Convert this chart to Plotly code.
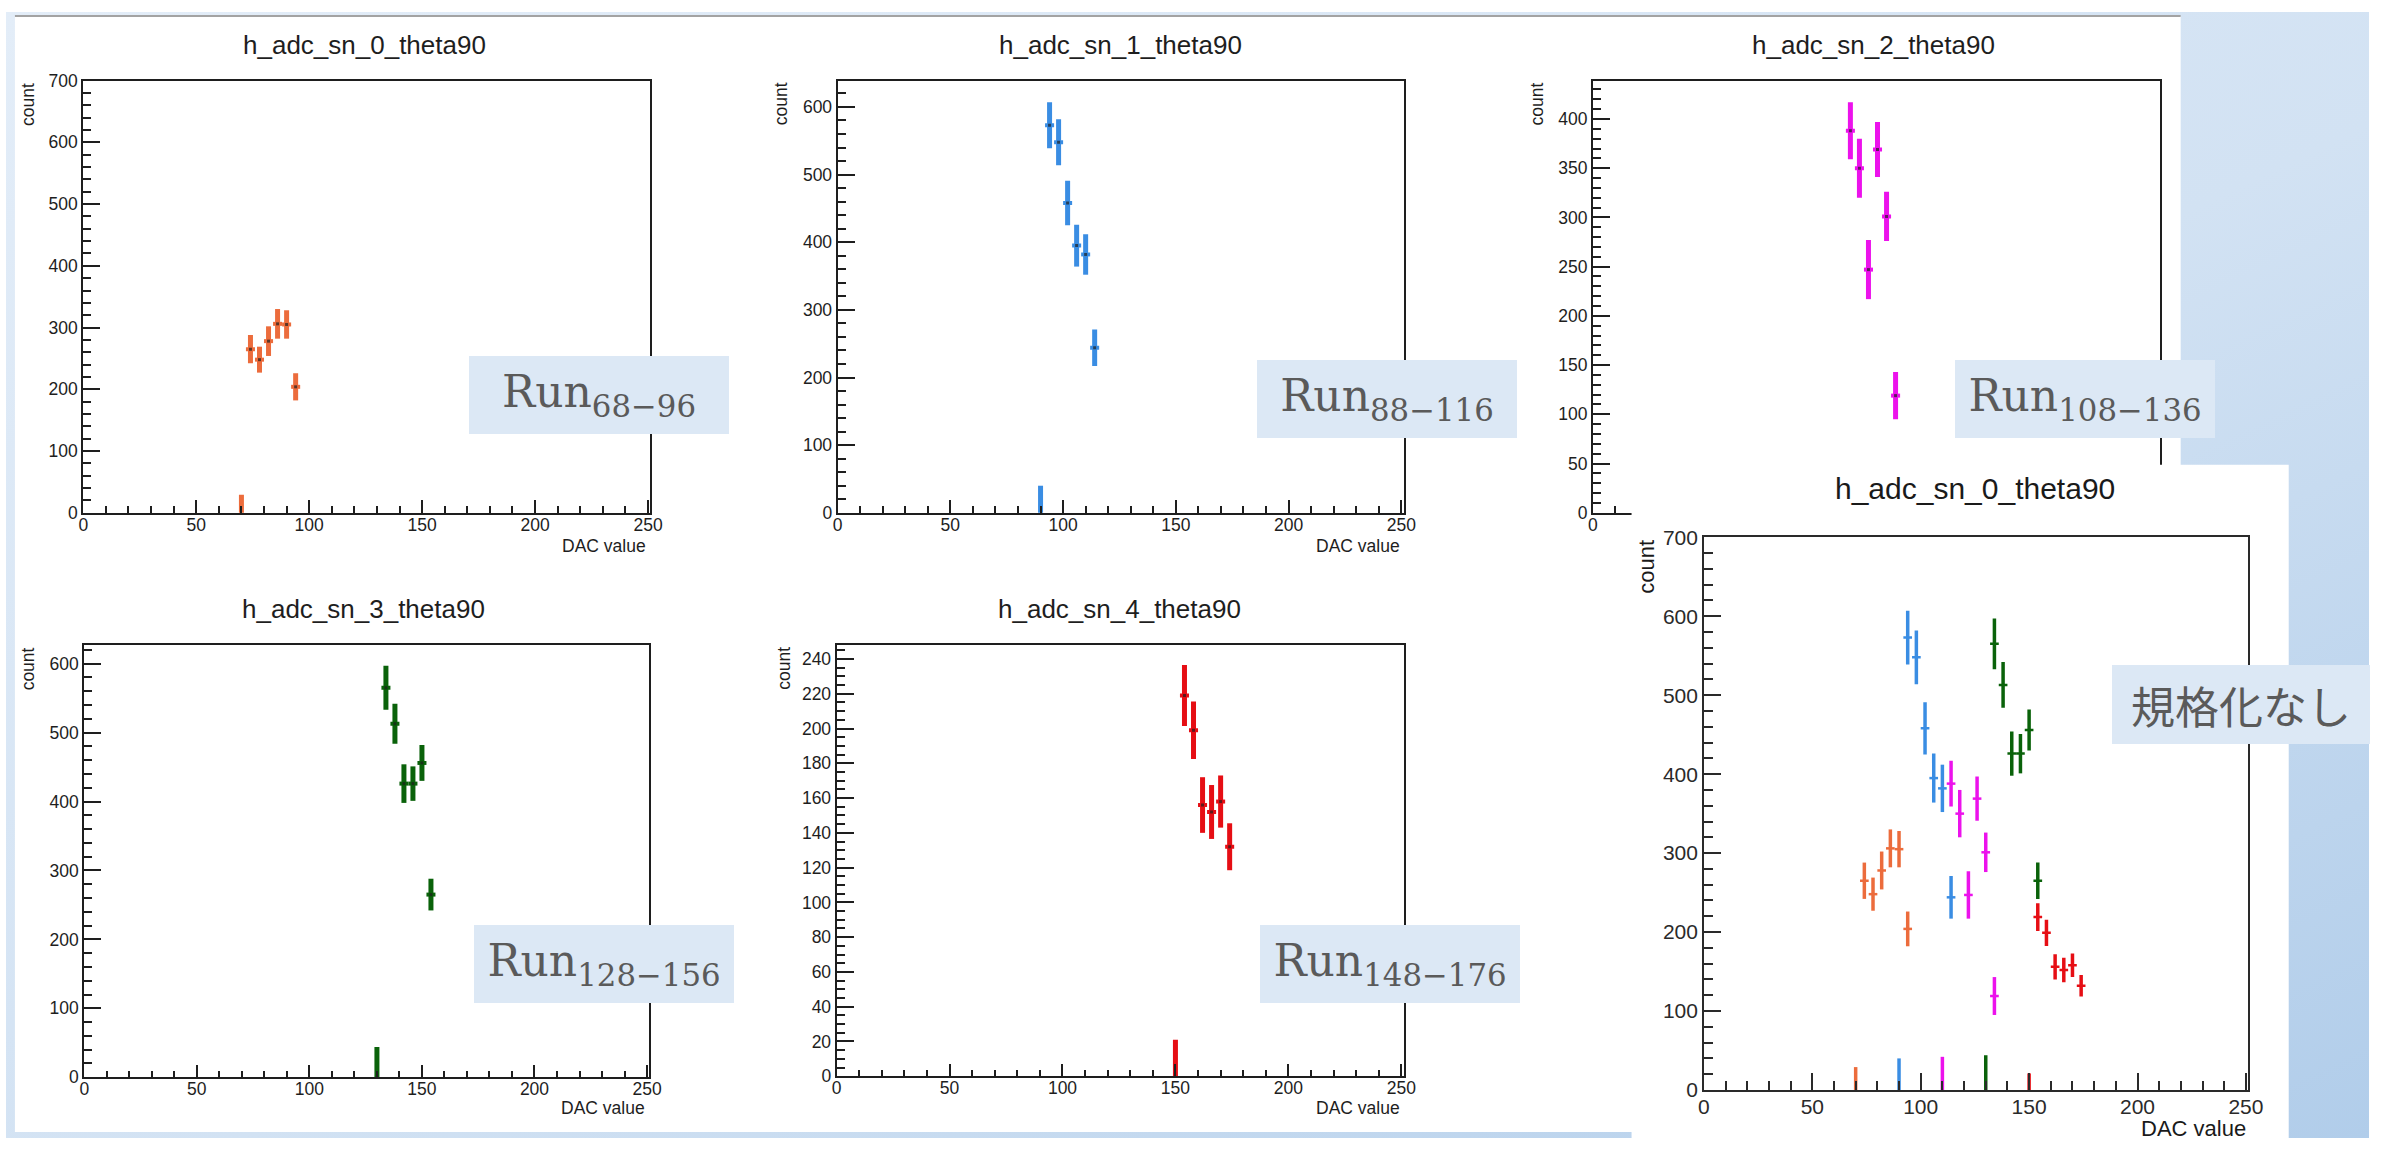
import base64
import plotly.graph_objects as go

W, H = 2384, 1149

# ---------------- data ----------------
SERIES = ["h_adc_sn_0_theta90", "h_adc_sn_1_theta90", "h_adc_sn_2_theta90",
          "h_adc_sn_3_theta90", "h_adc_sn_4_theta90"]

SN0_X = [74, 78, 82, 86, 90, 94]
SN0_Y = [265, 248, 278, 306, 305, 204]
SN0_ERR = [23, 21, 24, 24, 23, 22]

SN1_X = [94, 98, 102, 106, 110, 114]
SN1_Y = [573, 548, 458, 395, 382, 244]
SN1_ERR = [34, 34, 33, 31, 30, 27]

SN2_X = [114, 118, 122, 126, 130, 134]
SN2_Y = [388, 350, 247, 369, 301, 119]
SN2_ERR = [29, 30, 30, 28, 25, 24]

SN3_X = [134, 138, 142, 146, 150, 154]
SN3_Y = [565, 513, 426, 426, 456, 265]
SN3_ERR = [32, 29, 28, 25, 26, 23]

SN4_X = [154, 158, 162, 166, 170, 174]
SN4_Y = [219, 199, 156, 152, 158, 132]
SN4_ERR = [17.5, 16.5, 16, 15.5, 15, 13.5]

# first bin of each run: drawn as an error bar sitting on zero
ZERO_BIN_X = [70, 90, 110, 130, 150]
ZERO_BIN_ERR = [29, 40, 42, 44, 21]

BIN_HALF_WIDTH = [2, 2, 2, 2, 2, 2]

RUN_RANGES = ["68−96", "88−116", "108−136", "128−156", "148−176"]
X_TICKS = [0, 50, 100, 150, 200, 250]
Y_MAX = [700, 639, 439, 627, 248]
Y_MAX_ALL = 700

XS = [SN0_X, SN1_X, SN2_X, SN3_X, SN4_X]
YS = [SN0_Y, SN1_Y, SN2_Y, SN3_Y, SN4_Y]
ERRS = [SN0_ERR, SN1_ERR, SN2_ERR, SN3_ERR, SN4_ERR]

# ---------------- style ----------------
COLORS = ["#EC6C3C", "#3A8DE3", "#EC12EC", "#0A620A", "#E60E14"]
FONT = "Liberation Sans"
AX = "#1e1e1e"

# pixel boxes (left, right, top, bottom)
PANEL_BOX = [(78, 650, 70, 511), (839, 1410, 70, 511), (1601, 2173, 70, 511),
             (79, 649, 646, 1087), (838, 1410, 646, 1086)]
PANEL_YTICK = [(100, 20), (100, 20), (50, 10), (100, 20), (20, 5)]
TITLE_POS = [(362, 34), (1124, 34), (1884, 34), (361, 609), (1123, 609)]
COUNT_X = [22, 782, 1545, 22, 784]
DAC_Y = [545, 545, None, 1118, 1118]
RUN_BOX = [(598, 391), (1393, 395), (2097, 395), (603, 971), (1396, 971)]

COVER_BOX = (1640, 2303, 462, 1149)
ALL_BOX = (1713, 2262, 536, 1100)


def fx(p):
    return p / W


def fy(p):
    return 1 - p / H


def xdom(b):
    return [fx(b[0]), fx(b[1])]


def ydom(b):
    return [fy(b[3]), fy(b[2])]


fig = go.Figure()
layout = dict(width=W, height=H, margin=dict(l=0, r=0, t=0, b=0),
              paper_bgcolor="white", plot_bgcolor="white", showlegend=False)
annotations = []


def axes_common(fs, lw, maj, color=AX):
    return dict(showline=True, mirror=True, linecolor=color, linewidth=lw,
                ticks="inside", ticklen=maj, tickwidth=lw, tickcolor=color,
                showgrid=False, zeroline=False,
                tickfont=dict(family=FONT, size=fs, color=color))


def add_series(i, ax_id, thick, hthick, dot):
    xa = "x" if ax_id == 1 else f"x{ax_id}"
    ya = "y" if ax_id == 1 else f"y{ax_id}"
    c = COLORS[i]
    fig.add_trace(go.Scatter(
        x=XS[i], y=YS[i], mode="markers", xaxis=xa, yaxis=ya,
        marker=dict(size=3, color="rgba(30,30,30,0.7)" if dot else "rgba(0,0,0,0)",
                    symbol="square"),
        error_y=dict(type="data", array=ERRS[i], thickness=thick, width=0, color=c),
        error_x=dict(type="data", array=BIN_HALF_WIDTH, thickness=hthick, width=0, color=c),
        name=SERIES[i], hoverinfo="x+y"))
    fig.add_trace(go.Scatter(
        x=[ZERO_BIN_X[i]], y=[0], mode="markers", xaxis=xa, yaxis=ya,
        marker=dict(size=1, color="rgba(0,0,0,0)"),
        error_y=dict(type="data", array=[ZERO_BIN_ERR[i]], thickness=thick, width=0, color=c),
        name=SERIES[i], hoverinfo="skip"))


# ---- five single panels ----
for i in range(5):
    k = i + 1
    b = PANEL_BOX[i]
    add_series(i, k, 5, 4, True)
    xkey = "xaxis" if k == 1 else f"xaxis{k}"
    ykey = "yaxis" if k == 1 else f"yaxis{k}"
    xa = axes_common(17.5, 2, 12.5)
    xa.update(domain=xdom(b), anchor="y" if k == 1 else f"y{k}",
              range=[0, 251], tickvals=X_TICKS, ticklabelstandoff=-5,
              minor=dict(ticks="inside", ticklen=6.5, tickwidth=2, tickcolor=AX, dtick=10))
    ya = axes_common(17.5, 2, 17)
    maj, mn = PANEL_YTICK[i]
    ya.update(domain=ydom(b), anchor="x" if k == 1 else f"x{k}",
              range=[0, Y_MAX[i]], dtick=maj, tick0=0,
              minor=dict(ticks="inside", ticklen=8, tickwidth=2, tickcolor=AX, dtick=mn))
    layout[xkey] = xa
    layout[ykey] = ya

    tx, ty = TITLE_POS[i]
    annotations.append(dict(x=fx(tx), y=fy(ty), xref="paper", yref="paper",
                            text=SERIES[i], showarrow=False, xanchor="center", yanchor="middle",
                            font=dict(family=FONT, size=26, color=AX)))
    annotations.append(dict(x=fx(COUNT_X[i]), y=fy(b[2]), xref="paper", yref="paper",
                            text="count", textangle=-90, showarrow=False,
                            xanchor="center", yanchor="top",
                            font=dict(family=FONT, size=17.5, color=AX)))
    if DAC_Y[i] is not None:
        annotations.append(dict(x=fx(b[1] - 2), y=fy(DAC_Y[i]), xref="paper", yref="paper",
                                text="DAC value", showarrow=False, xanchor="right",
                                yanchor="middle", font=dict(family=FONT, size=17.5, color=AX)))

# ---- cover (white panel pasted over the third plot) ----
fig.add_trace(go.Scatter(x=[], y=[], xaxis="x6", yaxis="y6", hoverinfo="skip"))
layout["xaxis6"] = dict(domain=xdom(COVER_BOX), anchor="y6", visible=False, range=[0, 1])
layout["yaxis6"] = dict(domain=ydom(COVER_BOX), anchor="x6", visible=False, range=[0, 1])

# ---- combined panel ----
for i in range(5):
    add_series(i, 7, 3.5, 2.5, False)
AX6 = "#2a2a2a"
xa = axes_common(21, 1.5, 17, AX6)
xa.update(domain=xdom(ALL_BOX), anchor="y7", range=[0, 251], tickvals=X_TICKS,
          ticklabelstandoff=-3,
          minor=dict(ticks="inside", ticklen=9, tickwidth=1.5, tickcolor=AX6, dtick=10))
ya = axes_common(21, 1.5, 17, AX6)
ya.update(domain=ydom(ALL_BOX), anchor="x7", range=[0, Y_MAX_ALL], dtick=100, tick0=0,
          minor=dict(ticks="inside", ticklen=9, tickwidth=1.5, tickcolor=AX6, dtick=20))
layout["xaxis7"] = xa
layout["yaxis7"] = ya
annotations.append(dict(x=fx(1987), y=fy(486), xref="paper", yref="paper", text=SERIES[0],
                        showarrow=False, xanchor="center", yanchor="middle",
                        font=dict(family=FONT, size=30, color="#1a1a1a")))
annotations.append(dict(x=fx(1655), y=fy(536), xref="paper", yref="paper", text="count",
                        textangle=-90, showarrow=False, xanchor="center", yanchor="top",
                        font=dict(family=FONT, size=22, color="#1a1a1a")))
annotations.append(dict(x=fx(2262), y=fy(1139), xref="paper", yref="paper", text="DAC value",
                        showarrow=False, xanchor="right", yanchor="middle",
                        font=dict(family=FONT, size=22, color="#1a1a1a")))

# ---- run labels ----
BOX_FILL = "#dce8f5"
for i in range(5):
    cx, cy = RUN_BOX[i]
    annotations.append(dict(x=fx(cx), y=fy(cy), xref="paper", yref="paper",
                            text=f"Run<sub>{RUN_RANGES[i]}</sub>", showarrow=False,
                            xanchor="center", yanchor="middle", width=260, height=78,
                            bgcolor=BOX_FILL, borderpad=0, borderwidth=0, align="center",
                            valign="middle",
                            font=dict(family="DejaVu Serif", size=44, color="#5a5a5a")))
annotations.append(dict(x=fx(2255), y=fy(707), xref="paper", yref="paper", text="規格化なし",
                        showarrow=False, xanchor="center", yanchor="middle", width=258, height=79,
                        bgcolor=BOX_FILL, borderpad=0, borderwidth=0,
                        font=dict(family="Noto Sans CJK JP", size=44, color="#5a5a5a")))

# ---- slide background ----
svg = (f"<svg xmlns='http://www.w3.org/2000/svg' width='{W}' height='{H}' viewBox='0 0 {W} {H}' "
       "preserveAspectRatio='none'><defs><linearGradient id='g' x1='0' y1='0' x2='1' y2='1'>"
       "<stop offset='0' stop-color='#e3edf8'/><stop offset='0.55' stop-color='#d2e2f3'/>"
       "<stop offset='1' stop-color='#b1cdea'/></linearGradient></defs>"
       "<rect x='0' y='0' width='100%' height='100%' fill='url(#g)'/></svg>")
layout["images"] = [dict(source="data:image/svg+xml;base64," + base64.b64encode(svg.encode()).decode(),
                         xref="paper", yref="paper", x=0, y=1, sizex=1, sizey=1,
                         xanchor="left", yanchor="top", sizing="stretch", layer="below")]
layout["shapes"] = [
    dict(type="rect", xref="paper", yref="paper", x0=fx(9), x1=fx(2194), y0=fy(1143), y1=fy(4),
         fillcolor="white", line=dict(width=0), layer="below"),
    dict(type="line", xref="paper", yref="paper", x0=fx(9), x1=fx(2194), y0=fy(4), y1=fy(4),
         line=dict(color="#a3a3a3", width=2), layer="below"),
]
layout["annotations"] = annotations
fig.update_layout(**layout)
fig.write_html("out.html")
